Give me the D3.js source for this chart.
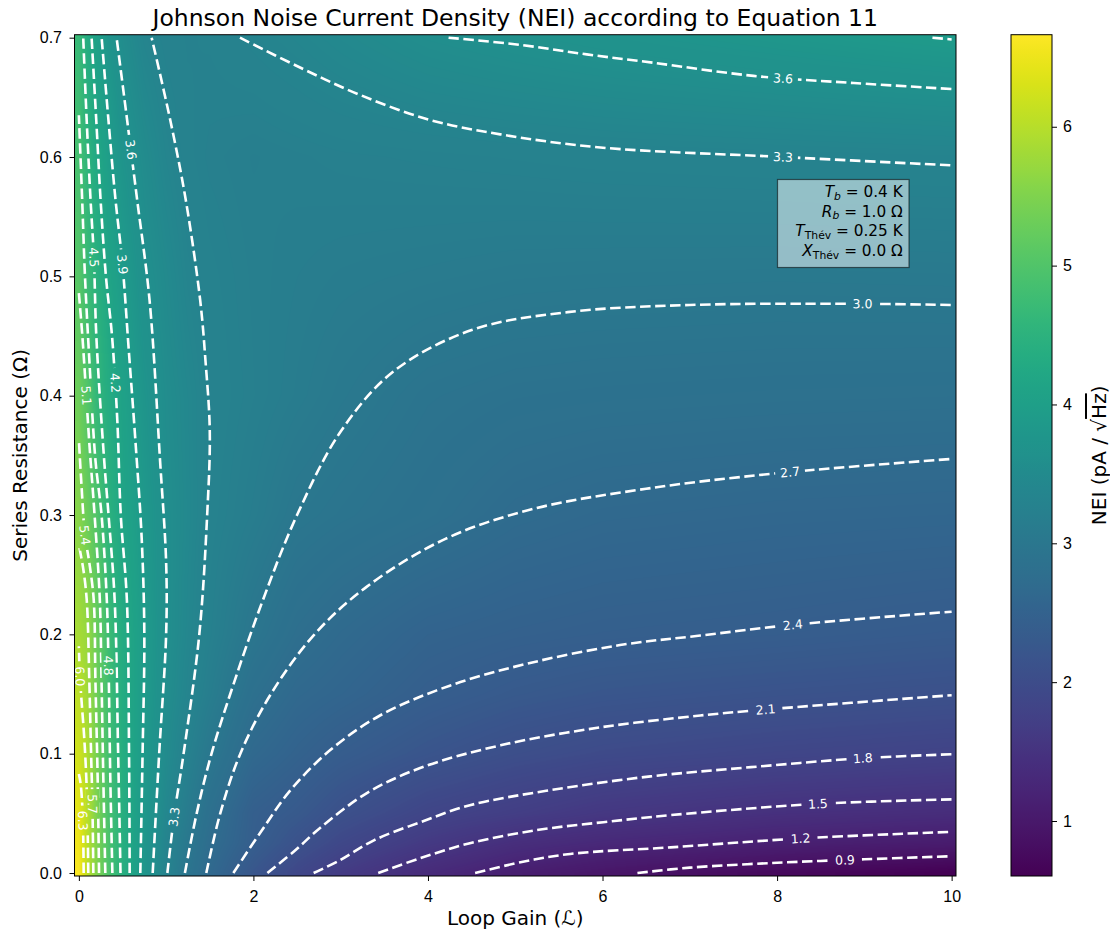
<!DOCTYPE html>
<html>
<head>
<meta charset="utf-8">
<style>
  body { margin: 0; background: #fff; }
  svg { font-family: 'DejaVu Sans', sans-serif; }
  .tick text { font-size: 16px; fill: #000; }
  .tick line { stroke: #000; stroke-width: 1; }
  .clabel { font-size: 12.5px; fill: #fff; }
  .axis-label { font-size: 20px; }
</style>
</head>
<body>
<svg width="1110" height="932"></svg>
<script src="https://d3js.org/d3.v7.min.js"></script>
<script>
// ---- field (NEI, pA/sqrt(Hz)) ----
const gridX = [0, 0.1, 0.2, 0.35, 0.5, 0.75, 1, 1.25, 1.5, 2, 2.5, 3, 4, 5, 6, 8, 10];
const gridY = [0, 0.025, 0.05, 0.1, 0.15, 0.2, 0.3, 0.4, 0.5, 0.6, 0.7];
const neiRows = [
  [6.64, 6.04, 5.54, 4.92, 4.43, 3.80, 3.32, 2.95, 2.66, 2.22, 1.90, 1.66, 1.33, 1.11, 0.95, 0.74, 0.60],
  [6.53, 6.03, 5.54, 4.91, 4.43, 3.81, 3.34, 3.03, 2.75, 2.40, 2.13, 1.91, 1.62, 1.40, 1.29, 1.15, 1.06],
  [6.43, 6.00, 5.50, 4.89, 4.41, 3.84, 3.42, 3.12, 2.83, 2.42, 2.29, 2.10, 1.85, 1.71, 1.58, 1.44, 1.37],
  [6.23, 5.93, 5.42, 4.82, 4.38, 3.87, 3.51, 3.25, 3.02, 2.65, 2.50, 2.37, 2.19, 2.05, 1.96, 1.87, 1.80],
  [6.05, 5.80, 5.36, 4.77, 4.34, 3.90, 3.57, 3.35, 3.17, 2.83, 2.65, 2.57, 2.40, 2.29, 2.22, 2.15, 2.10],
  [5.87, 5.72, 5.31, 4.74, 4.32, 3.92, 3.60, 3.40, 3.24, 2.98, 2.79, 2.68, 2.52, 2.46, 2.42, 2.38, 2.32],
  [5.57, 5.28, 5.02, 4.48, 4.17, 3.85, 3.59, 3.44, 3.28, 3.15, 3.00, 2.94, 2.84, 2.71, 2.65, 2.61, 2.59],
  [5.31, 5.03, 4.63, 4.33, 4.08, 3.76, 3.55, 3.42, 3.30, 3.21, 3.13, 3.05, 2.93, 2.88, 2.86, 2.84, 2.83],
  [5.07, 4.72, 4.48, 4.14, 3.92, 3.63, 3.48, 3.34, 3.27, 3.20, 3.16, 3.13, 3.10, 3.07, 3.06, 3.05, 3.06],
  [4.87, 4.55, 4.25, 3.96, 3.74, 3.52, 3.37, 3.27, 3.22, 3.18, 3.20, 3.22, 3.24, 3.26, 3.28, 3.30, 3.32],
  [4.69, 4.34, 4.06, 3.74, 3.55, 3.36, 3.28, 3.25, 3.26, 3.32, 3.38, 3.45, 3.57, 3.64, 3.70, 3.80, 3.90]
];

// ---- contour lines, [loop gain, series resistance] ----
const c09 = [[6.40,0],[7.0,0.0045],[8.0,0.0086],[9.0,0.0115],[10,0.0141]];
const c12 = [[4.54,0],[5.06,0.009],[5.63,0.016],[6.78,0.0215],[8.27,0.029],[10,0.0345]];
const c15 = [[3.43,0],[3.91,0.0124],[4.48,0.025],[5.25,0.036],[6.01,0.0426],[6.78,0.0485],[8.47,0.058],[10,0.0617]];
const c18 = [[2.69,0],[2.99,0.0107],[3.38,0.0274],[3.91,0.0425],[4.48,0.0568],[5.40,0.0694],[6.55,0.081],[7.70,0.0887],[8.98,0.0962],[10,0.0995]];
const c21 = [[2.16,0],[2.48,0.0191],[2.76,0.0375],[3.30,0.067],[3.91,0.088],[4.83,0.107],[5.97,0.122],[7.12,0.132],[7.87,0.137],[10,0.149]];
const c24 = [[1.77,0],[2.08,0.034],[2.42,0.069],[2.88,0.103],[3.45,0.132],[4.25,0.157],[5.17,0.176],[6.2,0.191],[7.12,0.199],[8.18,0.208],[10,0.219]];
const c27 = [[1.46,0],[1.62,0.05],[1.85,0.1],[2.2,0.15],[2.7,0.2],[3.3,0.24],[4.2,0.28],[5.2,0.305],[6.5,0.322],[8.0,0.335],[10,0.347]];
const c30 = [[1.215,0],[1.35,0.05],[1.52,0.1],[1.78,0.16],[2.11,0.229],[2.5,0.3],[3.0,0.37],[3.6,0.42],[4.5,0.455],[5.6,0.47],[7,0.476],[8.9,0.477],[10,0.476]];
const c33a = [[1.014,0],[1.09,0.047],[1.2,0.1],[1.38,0.2],[1.47,0.3],[1.5,0.37],[1.45,0.43],[1.39,0.48],[1.225,0.564],[1.05,0.63],[0.834,0.7]];
const c33b = [[1.846,0.7],[2.534,0.675],[3.222,0.652],[4.025,0.631],[4.828,0.619],[5.975,0.608],[8.073,0.600],[10,0.593]];
const c36a = [[0.846,0],[0.92,0.1],[1.0,0.2],[1.0,0.26],[0.93,0.346],[0.81,0.48],[0.668,0.564],[0.596,0.606],[0.52,0.65],[0.432,0.7]];
const c36b = [[4.236,0.7],[5.057,0.694],[5.82,0.686],[6.58,0.679],[7.73,0.668],[8.88,0.662],[10,0.657]];
const c39a = [[0.704,0],[0.73,0.1],[0.75,0.2],[0.72,0.28],[0.65,0.36],[0.57,0.44],[0.5,0.51],[0.42,0.564],[0.34,0.63],[0.261,0.7]];
const c39b = [[9.78,0.7],[10,0.6985]];
const c42 = [[0.582,0],[0.575,0.1],[0.55,0.229],[0.48,0.3],[0.44,0.38],[0.38,0.45],[0.31,0.5],[0.249,0.564],[0.2,0.63],[0.146,0.7]];
const c45 = [[0.477,0],[0.45,0.1],[0.41,0.229],[0.34,0.3],[0.29,0.346],[0.2,0.45],[0.172,0.516],[0.134,0.564],[0.09,0.63],[0.05,0.7]];
const c48 = [[0.384,0],[0.36,0.08],[0.34,0.174],[0.32,0.229],[0.26,0.3],[0.19,0.346],[0.12,0.43],[0.07,0.5],[0.038,0.564],[0,0.635]];
const c51 = [[0.303,0],[0.28,0.08],[0.26,0.16],[0.24,0.229],[0.18,0.3],[0.12,0.36],[0.085,0.4],[0.04,0.45],[0,0.486]];
const c54 = [[0.231,0],[0.215,0.08],[0.19,0.16],[0.17,0.229],[0.12,0.26],[0.07,0.283],[0.03,0.325],[0,0.363]];
const c57 = [[0.166,0],[0.155,0.058],[0.14,0.1],[0.12,0.16],[0.09,0.229],[0.05,0.255],[0,0.275]];
const c60 = [[0.108,0],[0.1,0.04],[0.085,0.08],[0.06,0.115],[0.03,0.145],[0.012,0.165],[0,0.19]];
const c63 = [[0.055,0],[0.05,0.03],[0.04,0.055],[0.02,0.075],[0,0.083]];

const contourLevels = [0.9, 1.2, 1.5, 1.8, 2.1, 2.4, 2.7, 3.0, 3.3, 3.3, 3.6, 3.6, 3.9, 3.9, 4.2, 4.5, 4.8, 5.1, 5.4, 5.7, 6.0, 6.3];
const contourLines  = [c09, c12, c15, c18, c21, c24, c27, c30, c33a, c33b, c36a, c36b, c39a, c39b, c42, c45, c48, c51, c54, c57, c60, c63];

// inline labels: [line index, x, y] (snapped onto the drawn line)
const labelSpots = [
  [0, 8.78, 0.0115], [1, 8.27, 0.030], [2, 8.47, 0.0576], [3, 8.98, 0.096],
  [4, 7.87, 0.137], [5, 8.18, 0.208], [6, 8.15, 0.337], [7, 8.98, 0.477],
  [9, 8.07, 0.600], [11, 8.07, 0.665], [8, 1.09, 0.047], [10, 0.596, 0.606],
  [12, 0.5, 0.51], [14, 0.436, 0.411], [15, 0.172, 0.516], [16, 0.34, 0.174],
  [17, 0.085, 0.4], [18, 0.07, 0.283], [19, 0.15, 0.058], [20, 0.012, 0.165],
  [21, 0.045, 0.044]
];

const xTicks = [0, 2, 4, 6, 8, 10];
const yTicks = [0, 0.1, 0.2, 0.3, 0.4, 0.5, 0.6, 0.7];
const cbTicks = [1, 2, 3, 4, 5, 6];
const cbRange = [0.604, 6.663];

// ---- layout ----
const svg = d3.select("svg");
const pL = 74.5, pR = 956, pT = 34.7, pB = 876;

const x = d3.scaleLinear().domain([-0.05, 10.05]).range([pL, pR]);
const y = d3.scaleLinear().domain([-0.0025, 0.7025]).range([pB, pT]);
const color = d3.scaleSequential(d3.interpolateViridis).domain(cbRange);

const defs = svg.append("defs");
defs.append("clipPath").attr("id", "plotClip")
  .append("rect").attr("x", pL).attr("y", pT)
  .attr("width", pR - pL).attr("height", pB - pT);

// ---- heat map: shade between the read grid values ----
const lut = d3.range(512).map(k => d3.rgb(color(cbRange[0] + (cbRange[1] - cbRange[0]) * k / 511)));
const clamp = (v, a, b) => Math.max(a, Math.min(b, v));
const W = Math.ceil(pR - pL), H = Math.ceil(pB - pT);
const canvas = document.createElement("canvas");
canvas.width = W; canvas.height = H;
const ctx = canvas.getContext("2d");
const img = ctx.createImageData(W, H);
const colIdx = [], colT = [];
for (let c = 0; c < W; c++) {
  const xv = clamp(x.invert(pL + c + 0.5), gridX[0], gridX[gridX.length - 1]);
  const i = clamp(d3.bisectRight(gridX, xv) - 1, 0, gridX.length - 2);
  colIdx.push(i); colT.push((xv - gridX[i]) / (gridX[i + 1] - gridX[i]));
}
for (let r = 0; r < H; r++) {
  const yv = clamp(y.invert(pT + r + 0.5), gridY[0], gridY[gridY.length - 1]);
  const j = clamp(d3.bisectRight(gridY, yv) - 1, 0, gridY.length - 2);
  const ty = (yv - gridY[j]) / (gridY[j + 1] - gridY[j]);
  const r0 = neiRows[j], r1 = neiRows[j + 1];
  for (let c = 0; c < W; c++) {
    const i = colIdx[c], tx = colT[c];
    const v = (1 - ty) * ((1 - tx) * r0[i] + tx * r0[i + 1]) + ty * ((1 - tx) * r1[i] + tx * r1[i + 1]);
    const k = Math.round(511 * clamp((v - cbRange[0]) / (cbRange[1] - cbRange[0]), 0, 1));
    const p = (r * W + c) * 4, col = lut[k];
    img.data[p] = col.r; img.data[p + 1] = col.g; img.data[p + 2] = col.b; img.data[p + 3] = 255;
  }
}
ctx.putImageData(img, 0, 0);
svg.append("image").attr("x", pL).attr("y", pT).attr("width", W).attr("height", H)
  .attr("preserveAspectRatio", "none").attr("clip-path", "url(#plotClip)")
  .attr("href", canvas.toDataURL());

// ---- contour lines with gaps for the labels ----
const mask = defs.append("mask").attr("id", "labelGap")
  .attr("maskUnits", "userSpaceOnUse")
  .attr("x", 0).attr("y", 0).attr("width", 1110).attr("height", 932);
mask.append("rect").attr("width", 1110).attr("height", 932).attr("fill", "#fff");

const line = d3.line().x(d => x(d[0])).y(d => y(d[1])).curve(d3.curveCatmullRom.alpha(0.5));

const cg = svg.append("g").attr("clip-path", "url(#plotClip)");
const paths = cg.append("g").attr("mask", "url(#labelGap)")
  .selectAll("path").data(contourLines).join("path")
  .attr("d", line)
  .attr("fill", "none")
  .attr("stroke", "#fff")
  .attr("stroke-width", 2.6)
  .attr("stroke-dasharray", "10.5,4.5")
  .nodes();

const lg = svg.append("g");
labelSpots.forEach(([li, lx, ly]) => {
  const node = paths[li], len = node.getTotalLength();
  const tx = x(lx), ty = y(ly);
  let best = 0, bd = Infinity;
  for (let s = 0; s <= len; s += 0.5) {
    const p = node.getPointAtLength(s);
    const dd = (p.x - tx) ** 2 + (p.y - ty) ** 2;
    if (dd < bd) { bd = dd; best = s; }
  }
  const pc = node.getPointAtLength(best);
  const pa = node.getPointAtLength(Math.max(0, best - 6));
  const pb = node.getPointAtLength(Math.min(len, best + 6));
  let ang = Math.atan2(pb.y - pa.y, pb.x - pa.x) * 180 / Math.PI;
  if (ang > 90) ang -= 180;
  if (ang < -90) ang += 180;
  const tr = `translate(${pc.x},${pc.y}) rotate(${ang})`;
  const t = lg.append("text").attr("class", "clabel")
    .attr("text-anchor", "middle").attr("dy", "0.36em")
    .attr("transform", tr)
    .text(d3.format(".1f")(contourLevels[li]));
  const w = t.node().getComputedTextLength();
  mask.append("rect")
    .attr("x", -w / 2 - 5).attr("y", -7).attr("width", w + 10).attr("height", 14)
    .attr("fill", "#000").attr("transform", tr);
});

// ---- parameter box ----
const boxX = 777.5, boxY = 179.5, boxW = 131.5, boxH = 88;
svg.append("rect").attr("x", boxX).attr("y", boxY).attr("width", boxW).attr("height", boxH)
  .attr("fill", "#fff").attr("fill-opacity", 0.5)
  .attr("stroke", "#000").attr("stroke-opacity", 0.55).attr("stroke-width", 1.2);

const paramSym = ["T", "R", "T", "X"];
const paramSub = ["b", "b", "Thév", "Thév"];
const paramVal = [" = 0.4 K", " = 1.0 Ω", " = 0.25 K", " = 0.0 Ω"];
paramSym.forEach((s, i) => {
  const t = svg.append("text").attr("x", 902.7).attr("y", 197 + i * 19.6)
    .attr("text-anchor", "end").attr("font-size", 15.3);
  t.append("tspan").attr("font-style", "italic").text(s);
  t.append("tspan").attr("font-size", 10.8).attr("dy", 2.8)
    .attr("font-style", i < 2 ? "italic" : "normal").text(paramSub[i]);
  t.append("tspan").attr("dy", -2.8).text(paramVal[i]);
});

// ---- axes ----
svg.append("g").attr("transform", `translate(0,${pB})`)
  .call(d3.axisBottom(x).tickValues(xTicks).tickFormat(d3.format("d")).tickSize(5).tickPadding(9.5))
  .call(g => g.select(".domain").remove());
svg.append("g").attr("transform", `translate(${pL},0)`)
  .call(d3.axisLeft(y).tickValues(yTicks).tickFormat(d3.format(".1f")).tickSize(5).tickPadding(7.5))
  .call(g => g.select(".domain").remove());

svg.append("rect").attr("x", pL).attr("y", pT)
  .attr("width", pR - pL).attr("height", pB - pT)
  .attr("fill", "none").attr("stroke", "#000").attr("stroke-width", 1);

svg.append("text").attr("class", "axis-label")
  .attr("x", (pL + pR) / 2).attr("y", 925).attr("text-anchor", "middle")
  .text("Loop Gain (ℒ)");
svg.append("text").attr("class", "axis-label")
  .attr("transform", `translate(26.7,${(pT + pB) / 2}) rotate(-90)`)
  .attr("text-anchor", "middle")
  .text("Series Resistance (Ω)");
svg.append("text")
  .attr("x", (pL + pR) / 2).attr("y", 25.7).attr("text-anchor", "middle")
  .attr("font-size", 23.5)
  .text("Johnson Noise Current Density (NEI) according to Equation 11");

// ---- colour bar ----
const cbLeft = 1011, cbRight = 1052;
const cy = d3.scaleLinear().domain(cbRange).range([pB, pT]);
const grad = defs.append("linearGradient").attr("id", "viridisGrad")
  .attr("x1", 0).attr("y1", 1).attr("x2", 0).attr("y2", 0);
d3.range(0, 1.0001, 0.02).forEach(t => {
  grad.append("stop").attr("offset", t).attr("stop-color", d3.interpolateViridis(t));
});
svg.append("rect").attr("x", cbLeft).attr("y", pT)
  .attr("width", cbRight - cbLeft).attr("height", pB - pT)
  .attr("fill", "url(#viridisGrad)")
  .attr("stroke", "#000").attr("stroke-width", 1);
svg.append("g").attr("transform", `translate(${cbRight},0)`)
  .call(d3.axisRight(cy).tickValues(cbTicks).tickFormat(d3.format("d")).tickSize(5).tickPadding(6))
  .call(g => g.select(".domain").remove());

const cbl = svg.append("text").attr("class", "axis-label")
  .attr("transform", `translate(1106,${(pT + pB) / 2}) rotate(-90)`)
  .attr("text-anchor", "middle");
cbl.append("tspan").text("NEI (pA / √");
cbl.append("tspan").style("text-decoration", "overline").text("Hz");
cbl.append("tspan").text(")");
</script>
</body>
</html>
